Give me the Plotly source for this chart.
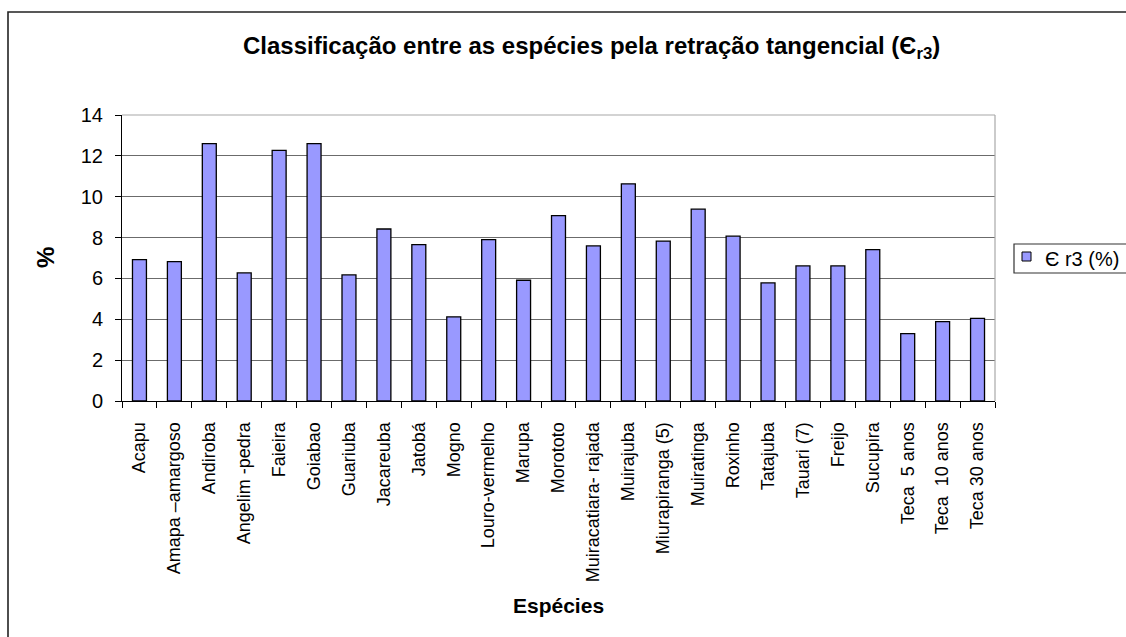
import plotly.graph_objects as go

especies = [
    "Acapu", "Amapa –amargoso", "Andiroba", "Angelim -pedra", "Faieira",
    "Goiabao", "Guariuba", "Jacareuba", "Jatobá", "Mogno",
    "Louro-vermelho", "Marupa", "Morototo", "Muiracatiara- rajada", "Muirajuba",
    "Miurapiranga (5)", "Muiratinga", "Roxinho", "Tatajuba", "Tauari (7)",
    "Freijo", "Sucupira", "Teca  5 anos", "Teca  10 anos", "Teca 30 anos",
]
retracao_r3 = [
    6.92, 6.82, 12.60, 6.27, 12.27,
    12.60, 6.17, 8.42, 7.65, 4.12,
    7.90, 5.91, 9.07, 7.59, 10.63,
    7.83, 9.39, 8.07, 5.78, 6.61,
    6.61, 7.41, 3.30, 3.89, 4.04,
]
y_ticks = [0, 2, 4, 6, 8, 10, 12, 14]
serie_nome = "Є r3 (%)"

W, H = 1126, 637
ML, MR, MT, MB = 122, 131, 115, 236
PW, PH = W - ML - MR, H - MT - MB


def px_x(x):
    return (x - ML) / PW


def px_y(y):
    return (H - MB - y) / PH


FONT = "Liberation Sans, Arial, sans-serif"
BAR_FILL = "#9999FF"

fig = go.Figure()
fig.add_trace(go.Bar(
    x=especies,
    y=retracao_r3,
    name=serie_nome,
    width=0.4,
    marker=dict(color=BAR_FILL, line=dict(color="#000000", width=1.3)),
))

fig.update_layout(
    width=W, height=H,
    margin=dict(l=ML, r=MR, t=MT, b=MB, pad=0),
    paper_bgcolor="white",
    plot_bgcolor="white",
    font=dict(family=FONT, color="black"),
    showlegend=False,
    bargap=0.6,
)

fig.update_xaxes(
    type="category",
    tickangle=-90,
    tickfont=dict(size=18, family=FONT),
    showline=True, linecolor="black", linewidth=1,
    ticks="outside", ticklen=6, tickcolor="black", tickson="boundaries",
    showgrid=False,
    ticklabelstandoff=13,
)
fig.update_yaxes(
    range=[0, 14],
    tickvals=y_ticks,
    tickfont=dict(size=20, family=FONT),
    showline=True, linecolor="black", linewidth=1,
    ticks="outside", ticklen=6, tickcolor="black",
    showgrid=True, gridcolor="#6b6b6b", gridwidth=1,
    zeroline=False,
    ticklabelstandoff=8,
)

# plot-area frame on top and right side
fig.add_shape(type="line", xref="paper", yref="paper", x0=0, x1=1, y0=1, y1=1,
              line=dict(color="#a8a8a8", width=1.2), layer="above")
fig.add_shape(type="line", xref="paper", yref="paper", x0=1, x1=1, y0=0, y1=1,
              line=dict(color="#a8a8a8", width=1.2), layer="above")

# outer chart border
fig.add_shape(type="rect", xref="paper", yref="paper",
              x0=px_x(8), x1=px_x(W + 20), y0=px_y(12), y1=px_y(H + 20),
              line=dict(color="#222222", width=1.6), layer="below")

# legend box (runs past the right edge of the chart)
fig.add_shape(type="rect", xref="paper", yref="paper",
              x0=px_x(1014), x1=px_x(W + 20), y0=px_y(244), y1=px_y(273),
              line=dict(color="#333333", width=1.2), fillcolor="white", layer="above")
fig.add_shape(type="rect", xref="paper", yref="paper",
              x0=px_x(1022), x1=px_x(1031), y0=px_y(252), y1=px_y(261),
              line=dict(color="#000000", width=1), fillcolor=BAR_FILL, layer="above")
fig.add_annotation(
    xref="paper", yref="paper", x=px_x(1043), y=px_y(258.5),
    xanchor="left", yanchor="middle", showarrow=False,
    text=serie_nome, font=dict(size=20, family=FONT),
)

fig.add_annotation(
    xref="paper", yref="paper", x=px_x(591), y=px_y(47),
    xanchor="center", yanchor="middle", showarrow=False,
    text="<b>Classificação entre as espécies pela retração tangencial (Є<sub>r3</sub>)</b>",
    font=dict(size=24, family=FONT),
)
fig.add_annotation(
    xref="paper", yref="paper", x=0.5, y=px_y(605),
    xanchor="center", yanchor="middle", showarrow=False,
    text="<b>Espécies</b>", font=dict(size=21, family=FONT),
)
fig.add_annotation(
    xref="paper", yref="paper", x=px_x(45), y=0.5,
    xanchor="center", yanchor="middle", showarrow=False, textangle=-90,
    text="<b>%</b>", font=dict(size=24, family=FONT),
)

fig.write_html("out.html")
